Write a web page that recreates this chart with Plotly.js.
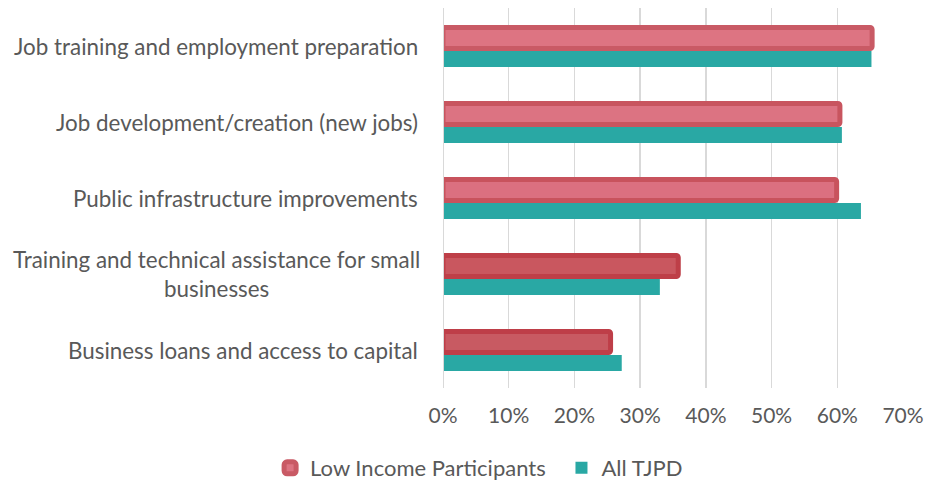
<!DOCTYPE html>
<html>
<head>
<meta charset="utf-8">
<script src="https://cdn.plot.ly/plotly-3.0.1.min.js"></script>
<style>
  html, body { margin: 0; padding: 0; background: #ffffff; }
  #chart { width: 925px; height: 483px; }
</style>
</head>
<body>
<div id="chart"></div>
<script>
// ---- data ----
const categories = [
  "Job training and employment preparation",
  "Job development/creation (new jobs)",
  "Public infrastructure improvements",
  "Training and technical assistance for small<br>businesses",
  "Business loans and access to capital"
];
const lowIncome = [0.653, 0.604, 0.599, 0.358, 0.255];
const allTJPD   = [0.652, 0.607, 0.636, 0.330, 0.272];
const xTickVals = [0, 0.1, 0.2, 0.3, 0.4, 0.5, 0.6, 0.7];
const xTickText = ["0%", "10%", "20%", "30%", "40%", "50%", "60%", "70%"];
const seriesNames = ["Low Income Participants", "All TJPD"];

// ---- styles ----
const redFill   = ["#dd7482", "#dc7382", "#db7080", "#c9575f", "#c85a62"];
const redBorder = ["#c95a65", "#c8555f", "#c8535d", "#be3f48", "#be3e48"];
const teal = "#29a8a4";
const textColor = "#595959";
const fontFam = "Lato, 'Open Sans', sans-serif";
const labelSize = 22.4;

const traces = [
  {
    type: "bar", orientation: "h",
    name: seriesNames[0],
    y: categories, x: lowIncome,
    width: 0.276, offset: -0.243,
    marker: { color: redFill, line: { color: redBorder, width: 5 }, cornerradius: 2 },
    legend: "legend",
    hoverinfo: "x+y"
  },
  {
    type: "bar", orientation: "h",
    name: seriesNames[1],
    y: categories, x: allTJPD,
    width: 0.21, offset: 0.066,
    marker: { color: teal, line: { width: 0 } },
    legend: "legend2",
    hoverinfo: "x+y"
  }
];

// text measuring for centered multi-line labels
const cnv = document.createElement("canvas").getContext("2d");
cnv.font = labelSize + "px Lato";
const plotW = 925 - 443 - 22;
const rightEdgePx = -23; // label right edge relative to plot left

const annotations = [];
const lineGap = 29;
categories.forEach((c) => {
  const lines = c.split("<br>");
  const n = lines.length;
  let xPos = rightEdgePx / plotW, anchor = "right";
  if (n > 1) {
    const w = Math.max(...lines.map(l => cnv.measureText(l).width));
    xPos = (rightEdgePx - w / 2) / plotW;
    anchor = "center";
  }
  lines.forEach((ln, i) => {
    annotations.push({
      xref: "paper", yref: "y",
      x: xPos, y: c,
      xanchor: anchor, yanchor: "middle",
      text: ln, showarrow: false,
      yshift: -((i - (n - 1) / 2) * lineGap),
      font: { family: fontFam, size: labelSize, color: textColor }
    });
  });
});

const legendBase = {
  orientation: "h",
  xref: "container", xanchor: "left",
  yref: "container", y: 0.031, yanchor: "middle",
  font: { family: fontFam, size: 22, color: textColor },
  bgcolor: "rgba(0,0,0,0)",
  itemwidth: 30
};

const layout = {
  width: 925, height: 483,
  margin: { l: 443, r: 22, t: 8, b: 95 },
  paper_bgcolor: "#ffffff", plot_bgcolor: "#ffffff",
  barmode: "overlay",
  showlegend: true,
  legend: Object.assign({}, legendBase, { x: 0.292 }),
  legend2: Object.assign({}, legendBase, { x: 0.607 }),
  xaxis: {
    range: [0, 0.7],
    tickvals: xTickVals, ticktext: xTickText,
    showgrid: true, gridcolor: "#d9d9d9", gridwidth: 1.5,
    zeroline: false, showline: false,
    ticks: "", ticklabelstandoff: 13,
    tickfont: { family: fontFam, size: 21, color: textColor },
    fixedrange: true
  },
  yaxis: {
    type: "category",
    autorange: "reversed",
    showticklabels: false,
    showgrid: false, zeroline: false,
    showline: false, ticks: "",
    fixedrange: true
  },
  shapes: [{
    type: "line", xref: "x", yref: "paper",
    x0: 0, x1: 0, y0: 0, y1: 1,
    line: { color: "#d9d9d9", width: 2 }
  }],
  annotations: annotations
};

Plotly.newPlot("chart", traces, layout, { displayModeBar: false, staticPlot: true });
</script>
</body>
</html>
